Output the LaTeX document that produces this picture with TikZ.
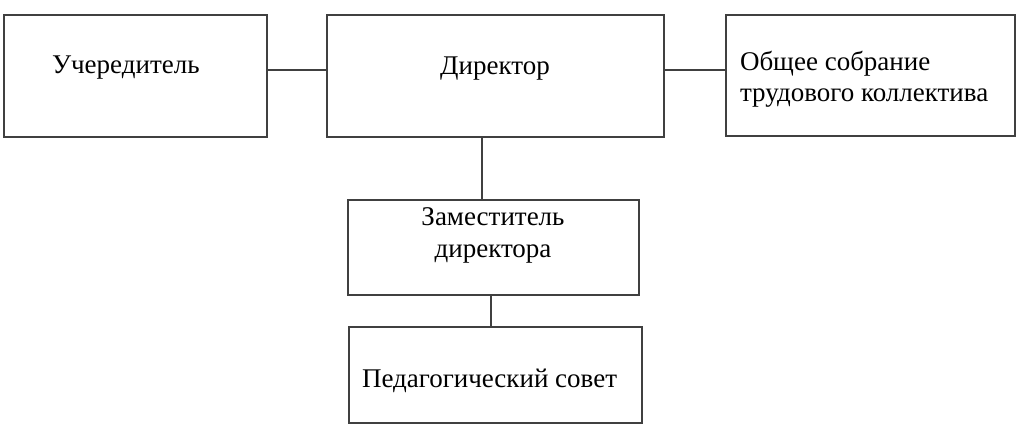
\documentclass[tikz,border=0pt]{standalone}
\usepackage{fontspec}
\setmainfont{Liberation Serif}
\begin{document}
\begin{tikzpicture}[x=1pt,y=-1pt,
  box/.style={draw=black!75,line width=1.1pt,rectangle,inner sep=0pt,outer sep=0pt},
  txt/.style={inner sep=0pt,outer sep=0pt,anchor=base west,font=\fontsize{27}{31}\selectfont},
  ctxt/.style={inner sep=0pt,outer sep=0pt,anchor=base,font=\fontsize{27}{31}\selectfont},
  link/.style={draw=black!75,line width=1.1pt}]
\useasboundingbox (0,0) rectangle (1024,440);
\node[box,minimum width=263pt,minimum height=122pt] (b1) at (135.5,76) {};
\node[box,minimum width=337pt,minimum height=122pt] (b2) at (495.5,76) {};
\node[box,minimum width=289pt,minimum height=121pt] (b3) at (870.5,75.5) {};
\node[box,minimum width=291pt,minimum height=95pt] (b4) at (493.5,247.5) {};
\node[box,minimum width=293pt,minimum height=96pt] (b5) at (495.5,375) {};
\node[txt] (t1) at (52,73) {Учередитель};
\node[ctxt] (t2) at (495,74) {Директор};
\node[txt] (t3a) at (740,70) {Общее собрание};
\node[txt] (t3b) at (740,101) {трудового коллектива};
\node[ctxt] (t4a) at (493,225) {Заместитель};
\node[ctxt] (t4b) at (493,257) {директора};
\node[txt] (t5) at (362,387) {Педагогический совет};
\draw[link] ([yshift=6pt]b1.east) -- ([yshift=6pt]b2.west);
\draw[link] ([yshift=6pt]b2.east) -- ([yshift=6pt]b2.east -| b3.west);
\draw[link] ([xshift=-13.5pt]b2.south) -- ([xshift=-13.5pt]b2.south |- b4.north);
\draw[link] ([xshift=-2.5pt]b4.south) -- ([xshift=-2.5pt]b4.south |- b5.north);
\end{tikzpicture}
\end{document}
